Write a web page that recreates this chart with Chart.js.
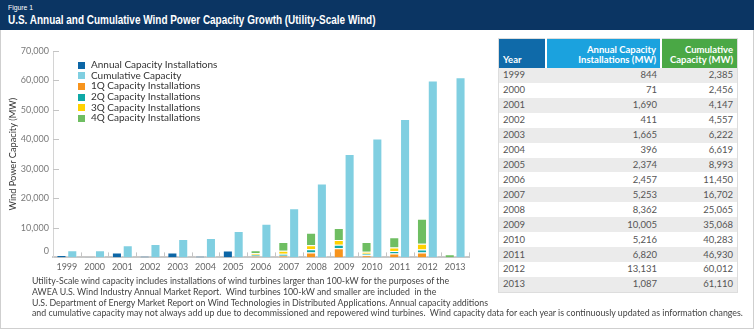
<!DOCTYPE html>
<html><head><meta charset="utf-8">
<script src="https://cdn.jsdelivr.net/npm/chart.js@4.4.0/dist/chart.umd.min.js"></script>
<style>
html,body{margin:0;padding:0;background:#fff;}
body{width:754px;height:329px;position:relative;overflow:hidden;font-family:Lato,"Open Sans",sans-serif;}
#hdr{position:absolute;left:0;top:0;width:754px;height:30px;background:#0b3563;color:#fff;}
#fig{position:absolute;left:8px;top:3px;font:8px Arial,sans-serif;transform:scaleX(0.85);transform-origin:0 0;}
#ttl{position:absolute;left:8px;top:13px;font:bold 12px Arial,sans-serif;white-space:nowrap;transform:scaleX(0.83);transform-origin:0 0;}
#panel{position:absolute;left:0;top:30px;width:752px;height:298px;border:1px solid #cfcfcf;border-top:none;}
#c{position:absolute;left:0;top:30px;}
#legend{position:absolute;left:78px;top:59px;font-size:10px;color:#333;}
#legend div{height:10.7px;line-height:10.7px;white-space:nowrap;}
#legend span{display:inline-block;width:7px;height:7px;margin-right:6px;vertical-align:-0.5px;}
#tbl{position:absolute;left:498px;top:38px;width:240px;border-collapse:collapse;font-size:9.5px;color:#555;border:1px solid #ddd;}
#tbl th{color:#fff;font-weight:bold;vertical-align:bottom;padding:0 4px 3px 4px;height:26px;line-height:10px;border-right:2px solid #fff;}
#tbl td{height:14.93px;padding:0 4px;line-height:14px;}
#tbl tr:nth-child(odd) td{background:#ebebeb;}
#note{position:absolute;left:32px;top:276px;font-size:8.8px;line-height:10.8px;color:#444;white-space:nowrap;}
</style></head>
<body>
<div id="hdr"><div id="fig">Figure 1</div><div id="ttl">U.S. Annual and Cumulative Wind Power Capacity Growth (Utility-Scale Wind)</div></div>
<div id="panel"></div>
<canvas id="c" width="480" height="246"></canvas>
<div id="legend"></div>
<table id="tbl"><thead><tr>
<th style="background:#0f6aa9;text-align:left;width:38px;">Year</th>
<th style="background:#1ba2de;text-align:right;width:105px;">Annual Capacity<br>Installations (MW)</th>
<th style="background:#4aa845;text-align:right;border-right:none;">Cumulative<br>Capacity (MW)</th>
</tr></thead><tbody id="tb"></tbody></table>
<div id="note">Utility-Scale wind capacity includes installations of wind turbines larger than 100-kW for the purposes of the<br>AWEA U.S. Wind Industry Annual Market Report.&nbsp; Wind turbines 100-kW and smaller are included&nbsp; in the<br>U.S. Department of Energy Market Report on Wind Technologies in Distributed Applications. Annual capacity additions<br>and cumulative capacity may not always add up due to decommissioned and repowered wind turbines.&nbsp; Wind capacity data for each year is continuously updated as information changes.</div>
<script>
const years = ['1999','2000','2001','2002','2003','2004','2005','2006','2007','2008','2009','2010','2011','2012','2013'];
const annualInstalled = [844,71,1690,411,1665,396,2374,2457,5253,8362,10005,5216,6820,13131,1087];
const cumulative = [2385,2456,4147,4557,6222,6619,8993,11450,16702,25065,35068,40283,46930,60012,61110];
const annualBars = [844,71,1690,411,1665,396,2374,null,null,null,null,null,null,null,null];
const q1 = [null,null,null,null,null,null,null,430,560,1650,3100,750,1350,1700,0];
const q2 = [null,null,null,null,null,null,null,480,680,1150,1150,500,800,1000,0];
const q3 = [null,null,null,null,null,null,null,470,1020,1350,1650,650,1200,1900,0];
const q4 = [null,null,null,null,null,null,null,1077,2993,4212,4105,3316,3470,8531,1087];
const yTicks = [0,10000,20000,30000,40000,50000,60000,70000];

const C = {annual:'#0c66a6', cum:'#80cfe1', q1:'#f7941d', q2:'#0fa8a6', q3:'#ffd100', q4:'#6fbe62'};
const fmt = v => v.toLocaleString('en-US');

const tb = document.getElementById('tb');
years.forEach((yr,i)=>{
  const tr = document.createElement('tr');
  tr.innerHTML = '<td>'+yr+'</td><td style="text-align:right">'+fmt(annualInstalled[i])+'</td><td style="text-align:right">'+fmt(cumulative[i])+'</td>';
  tb.appendChild(tr);
});

const ds = (label, data, color, stack) => ({label, data, backgroundColor: color, borderColor:'rgba(255,255,255,0.35)', borderWidth:1, stack, categoryPercentage:0.78, barPercentage:0.93});
const datasets = [
  ds('Annual Capacity Installations', annualBars, C.annual, 'a'),
  ds('Cumulative Capacity', cumulative, C.cum, 'b'),
  ds('1Q Capacity Installations', q1, C.q1, 'a'),
  ds('2Q Capacity Installations', q2, C.q2, 'a'),
  ds('3Q Capacity Installations', q3, C.q3, 'a'),
  ds('4Q Capacity Installations', q4, C.q4, 'a')
];

const lg = document.getElementById('legend');
datasets.forEach(d=>{
  const el = document.createElement('div');
  el.innerHTML = '<span style="background:'+d.backgroundColor+'"></span>'+d.label;
  lg.appendChild(el);
});

const axisDecor = {
  id:'axisDecor',
  afterDraw(chart){
    const {ctx, chartArea} = chart; const x = chart.scales.x, y = chart.scales.y;
    ctx.save();
    ctx.strokeStyle = '#c4c4c4'; ctx.lineWidth = 1;
    yTicks.forEach(v=>{ if(v===0) return;
      const py = Math.round(y.getPixelForValue(v))+0.5;
      ctx.beginPath(); ctx.moveTo(chartArea.left, py); ctx.lineTo(chartArea.left+6, py); ctx.stroke();
    });
    const w = x.width/years.length;
    for(let i=1;i<=years.length;i++){
      const px = Math.round(x.getPixelForValue(i-1)+w/2)+0.5;
      ctx.beginPath(); ctx.moveTo(px, chartArea.bottom); ctx.lineTo(px, chartArea.bottom-5); ctx.stroke();
    }
    ctx.fillStyle = '#7a7a7a'; ctx.font = '9px Lato'; ctx.textAlign = 'right'; ctx.textBaseline = 'middle';
    yTicks.forEach(v=> ctx.fillText(fmt(v), chartArea.left-4, y.getPixelForValue(v) - (v===0?6:0)));
    ctx.restore();
  }
};

new Chart(document.getElementById('c'), {
  type:'bar',
  data:{labels:years, datasets},
  options:{
    responsive:false, devicePixelRatio:1, animation:false,
    layout:{padding:{top:21,right:11,left:0,bottom:0}},
    plugins:{legend:{display:false}, tooltip:{enabled:false}},
    scales:{
      x:{
        grid:{display:false, drawTicks:false}, border:{display:true,color:'#c8c8c8',width:2},
        ticks:{color:'#666', font:{family:'Lato',size:9}, padding:4, maxRotation:0, autoSkip:false},
        afterFit(s){ s.height = 18.6; }
      },
      y:{
        min:0, max:70000, grid:{display:false}, border:{display:true,color:'#d4d4d4',width:1},
        ticks:{display:false, stepSize:10000},
        title:{display:true, text:'Wind Power Capacity (MW)', color:'#333', font:{family:'Lato',size:9.2}, padding:{top:8,bottom:0}},
        afterFit(s){ s.width = 53; }
      }
    }
  },
  plugins:[axisDecor]
});
</script>
</body></html>
